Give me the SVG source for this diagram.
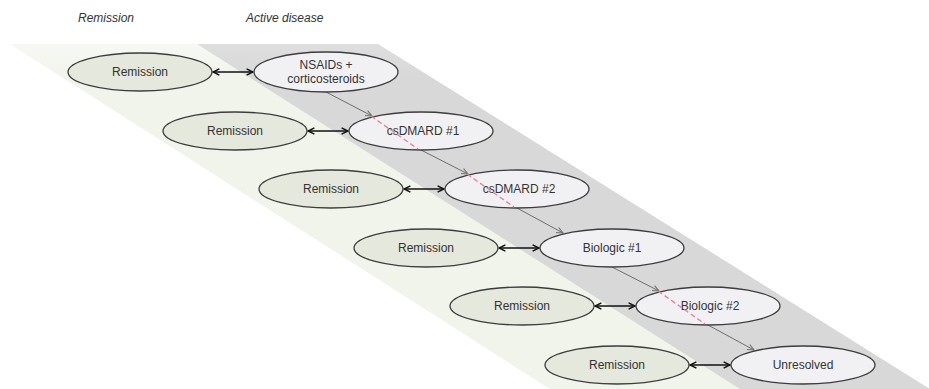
<svg xmlns="http://www.w3.org/2000/svg" width="929" height="389" viewBox="0 0 929 389">
<defs>
<style>
.rem ellipse{fill:#e5e8dc;stroke:#3c3c3c;stroke-width:1.3}
.act ellipse{fill:#f1f1f3;stroke:#3c3c3c;stroke-width:1.3}
text{font-family:"Liberation Sans",Arial,sans-serif;font-size:12px;fill:#333;text-anchor:middle}
.hdr{font-style:italic;text-anchor:start;font-size:12px}
.dbl{stroke:#111;stroke-width:1.6;fill:none}
.step{stroke:#6e6e6e;stroke-width:1;fill:none}
.pink{stroke:#e8849a;stroke-width:1.4;stroke-dasharray:5 3;fill:none}
</style>
<marker id="chev" viewBox="0 0 10 10" refX="9" refY="5" markerWidth="8" markerHeight="8" markerUnits="userSpaceOnUse" orient="auto-start-reverse">
<path d="M1,1 L9,5 L1,9" fill="none" stroke="#111" stroke-width="1.8"/>
</marker>
<marker id="chevg" viewBox="0 0 10 10" refX="9" refY="5" markerWidth="8" markerHeight="8" markerUnits="userSpaceOnUse" orient="auto">
<path d="M1,1.5 L9,5 L1,8.5" fill="none" stroke="#6e6e6e" stroke-width="1.3"/>
</marker>
<linearGradient id="lg" x1="0" y1="0" x2="0" y2="1">
<stop offset="0" stop-color="#f7f8f4"/>
<stop offset="0.1" stop-color="#f1f4eb"/>
<stop offset="1" stop-color="#f1f4eb"/>
</linearGradient>
<linearGradient id="gg" x1="0" y1="0" x2="0" y2="1">
<stop offset="0" stop-color="#dedede"/>
<stop offset="0.1" stop-color="#d8d8d8"/>
<stop offset="1" stop-color="#d8d8d8"/>
</linearGradient>
</defs>
<rect width="929" height="389" fill="#fff"/>
<g id="bands">
<polygon points="10,44 378,44 930,389 550,389" fill="url(#lg)"/>
<polygon points="197,44 378,44 930,389 740,389" fill="url(#gg)"/>
</g>
<g id="headers">
<text class="hdr" x="78" y="22">Remission</text>
<text class="hdr" x="246" y="22">Active disease</text>
</g>
<g id="connectors">
<line class="dbl" x1="213" y1="72" x2="253" y2="72" marker-start="url(#chev)" marker-end="url(#chev)"/>
<line class="dbl" x1="308" y1="131" x2="348" y2="131" marker-start="url(#chev)" marker-end="url(#chev)"/>
<line class="dbl" x1="404" y1="189" x2="444" y2="189" marker-start="url(#chev)" marker-end="url(#chev)"/>
<line class="dbl" x1="499" y1="248" x2="539" y2="248" marker-start="url(#chev)" marker-end="url(#chev)"/>
<line class="dbl" x1="595" y1="306" x2="635" y2="306" marker-start="url(#chev)" marker-end="url(#chev)"/>
<line class="dbl" x1="690" y1="365" x2="730" y2="365" marker-start="url(#chev)" marker-end="url(#chev)"/>
<line class="step" x1="326" y1="92" x2="372" y2="116" marker-end="url(#chevg)"/>
<line class="step" x1="421" y1="150" x2="468" y2="174" marker-end="url(#chevg)"/>
<line class="step" x1="517" y1="208" x2="563" y2="233" marker-end="url(#chevg)"/>
<line class="step" x1="612" y1="267" x2="659" y2="291" marker-end="url(#chevg)"/>
<line class="step" x1="708" y1="325" x2="754" y2="350" marker-end="url(#chevg)"/>
</g>
<g id="rem1" class="rem"><ellipse cx="140" cy="72" rx="72" ry="19"/><text x="140" y="76">Remission</text></g>
<g id="nsaids" class="act"><ellipse cx="326" cy="72" rx="72" ry="20"/><text x="326" y="69">NSAIDs +</text><text x="326" y="83">corticosteroids</text></g>
<g id="rem2" class="rem"><ellipse cx="235" cy="131" rx="72" ry="19"/><text x="235" y="135">Remission</text></g>
<g id="csdmard1" class="act"><ellipse cx="421" cy="131" rx="72" ry="19"/><text x="423" y="135">csDMARD #1</text></g>
<g id="rem3" class="rem"><ellipse cx="331" cy="189" rx="72" ry="19"/><text x="331" y="193">Remission</text></g>
<g id="csdmard2" class="act"><ellipse cx="517" cy="189" rx="72" ry="19"/><text x="519" y="193">csDMARD #2</text></g>
<g id="rem4" class="rem"><ellipse cx="426" cy="248" rx="72" ry="19"/><text x="426" y="252">Remission</text></g>
<g id="biologic1" class="act"><ellipse cx="612" cy="248" rx="72" ry="19"/><text x="612" y="252">Biologic #1</text></g>
<g id="rem5" class="rem"><ellipse cx="522" cy="306" rx="72" ry="19"/><text x="522" y="310">Remission</text></g>
<g id="biologic2" class="act"><ellipse cx="708" cy="306" rx="72" ry="19"/><text x="710" y="310">Biologic #2</text></g>
<g id="rem6" class="rem"><ellipse cx="617" cy="365" rx="72" ry="19"/><text x="617" y="369">Remission</text></g>
<g id="unresolved" class="act"><ellipse cx="803" cy="365" rx="72" ry="19"/><text x="803" y="369">Unresolved</text></g>
<g id="dashes">
<line class="pink" x1="371" y1="116" x2="418" y2="149"/>
<line class="pink" x1="467" y1="174" x2="514" y2="207"/>
<line class="pink" x1="658" y1="291" x2="705" y2="324"/>
</g>
</svg>
